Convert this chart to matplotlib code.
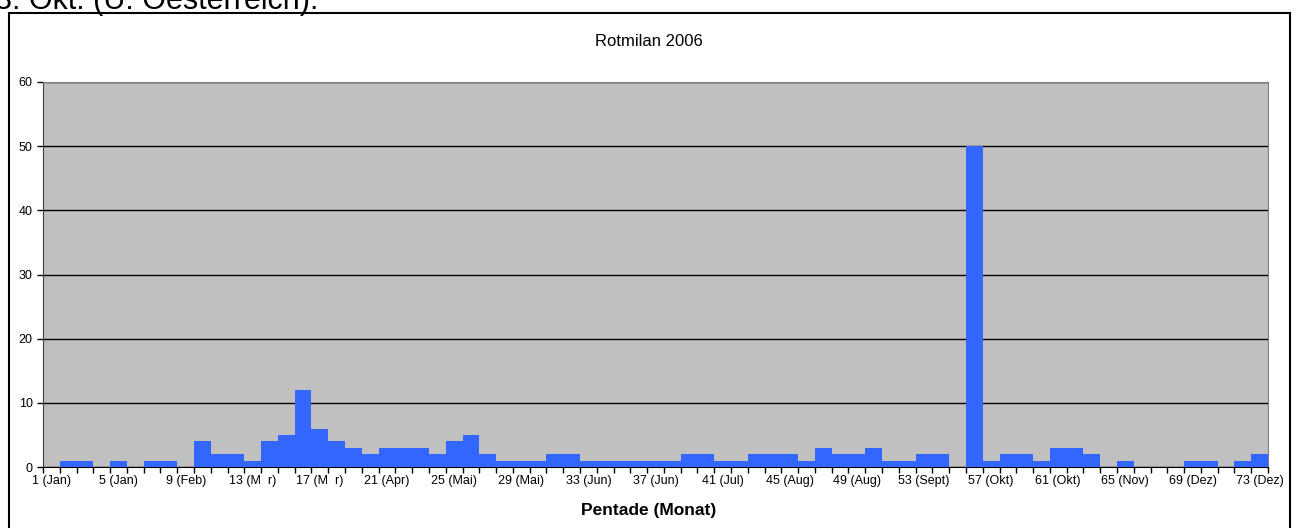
import numpy as np
import matplotlib as mpl
mpl.use('Agg')
import matplotlib.pyplot as plt
from matplotlib.patches import Rectangle

plt.rcParams['font.family'] = ['Liberation Sans', 'DejaVu Sans']

# Pentaden 1..73, Anzahl Rotmilane 2006
pentaden = list(range(1, 74))
anzahl = [0, 1, 1, 0, 1, 0, 1, 1, 0, 4,
          2, 2, 1, 4, 5, 12, 6, 4, 3, 2,
          3, 3, 3, 2, 4, 5, 2, 1, 1, 1,
          2, 2, 1, 1, 1, 1, 1, 1, 2, 2,
          1, 1, 2, 2, 2, 1, 3, 2, 2, 3,
          1, 1, 2, 2, 0, 50, 1, 2, 2, 1,
          3, 3, 2, 0, 1, 0, 0, 0, 1, 1,
          0, 1, 2]
tick_pos = list(range(1, 74, 4))
tick_labels = ['1 (Jan)', '5 (Jan)', '9 (Feb)', '13 (M  r)', '17 (M  r)',
               '21 (Apr)', '25 (Mai)', '29 (Mai)', '33 (Jun)', '37 (Jun)',
               '41 (Jul)', '45 (Aug)', '49 (Aug)', '53 (Sept)', '57 (Okt)',
               '61 (Okt)', '65 (Nov)', '69 (Dez)', '73 (Dez)']

fig = plt.figure(figsize=(12.98, 5.28), dpi=100)
ax = fig.add_axes([43/1298, 1-467/528, (1268-43)/1298, (467-82)/528])

# Rahmen um das Diagramm
fig.patches.append(Rectangle((9/1298, -0.02), (1290-9)/1298, 0.02+1-13/528,
                             transform=fig.transFigure, fill=False,
                             edgecolor='black', linewidth=1.5))
fig.text(-5/1298, 1-9/528, '3. Okt. (U. Oesterreich).', fontsize=22,
         ha='left', va='baseline')

ax.set_facecolor('#C0C0C0')
ax.bar(pentaden, anzahl, width=1.0, color='#3366FF', zorder=3)
ax.set_xlim(0.5, 73.5)
ax.set_ylim(0, 60)
ax.set_yticks(range(0, 61, 10))
ax.yaxis.grid(True, color='black', linewidth=1, zorder=1)
ax.set_axisbelow(True)

ax.set_xticks(np.arange(0.5, 74, 1))
ax.set_xticklabels([])
ax.set_xticks(tick_pos, minor=True)
ax.set_xticklabels(tick_labels, minor=True)
ax.tick_params(axis='x', which='major', direction='out', length=4, width=1, color='black')
ax.tick_params(axis='x', which='minor', length=0, pad=6, labelsize=9)
ax.tick_params(axis='y', direction='out', length=4, width=1, labelsize=9, color='black')

for s in ['top', 'right']:
    ax.spines[s].set_color('#808080')
ax.spines['left'].set_color('#404040')
ax.spines['bottom'].set_color('black')

fig.text(0.5, 1-41/528, 'Rotmilan 2006', ha='center', va='center', fontsize=12)
fig.text(0.5, 1-511/528, 'Pentade (Monat)', ha='center', va='center',
         fontsize=12.5, fontweight='bold')

plt.savefig('out.png', dpi=100)
